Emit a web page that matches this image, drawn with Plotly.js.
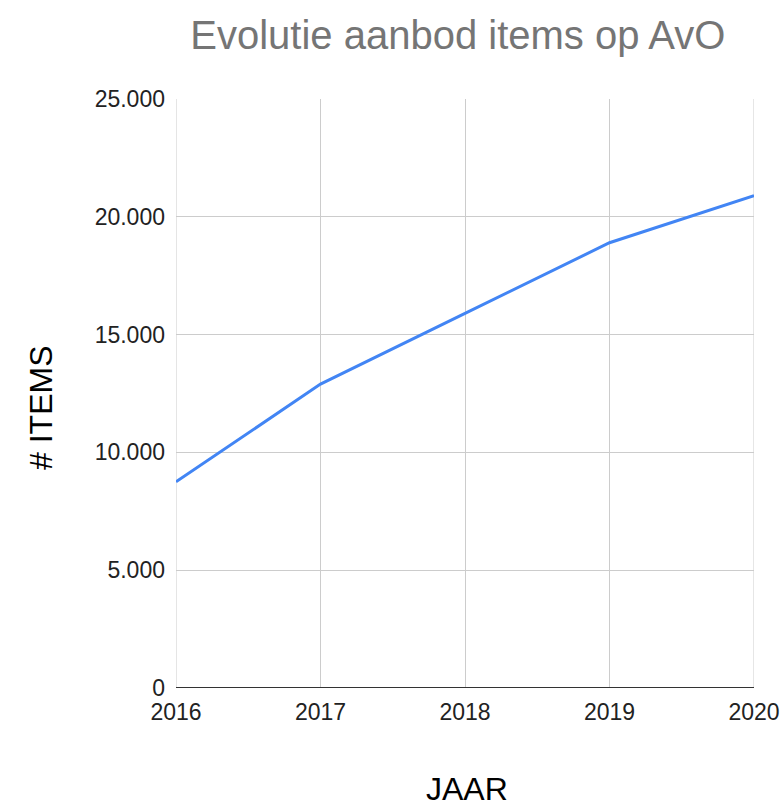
<!DOCTYPE html>
<html>
<head>
<meta charset="utf-8">
<script src="https://cdn.plot.ly/plotly-3.0.1.min.js"></script>
<style>html,body{margin:0;padding:0;background:#fff;}#chart{width:784px;height:808px;}</style>
</head>
<body>
<div id="chart"></div>
<script>
const years = [2016, 2017, 2018, 2019, 2020];
const items = [8750, 12900, 15900, 18900, 20900];
const yTickVals = [0, 5000, 10000, 15000, 20000, 25000];
const yTickText = ["0", "5.000", "10.000", "15.000", "20.000", "25.000"];
const xTickText = ["2016", "2017", "2018", "2019", "2020"];

const trace = {
  x: years, y: items, type: 'scatter', mode: 'lines',
  line: {color: '#4285F4', width: 3},
  hoverinfo: 'none'
};
const layout = {
  width: 784, height: 808,
  margin: {l: 176, r: 30, t: 99, b: 120},
  paper_bgcolor: '#fff', plot_bgcolor: '#fff',
  font: {family: 'Liberation Sans, Arial, sans-serif', color: '#000', size: 23},
  title: {text: 'Evolutie aanbod items op AvO', font: {size: 40, color: '#757575'}, x: 0.584, xanchor: 'center', y: 0.957, yanchor: 'middle'},
  xaxis: {
    range: [2016, 2020], tickvals: years, ticktext: xTickText,
    showgrid: true, gridcolor: '#cccccc', gridwidth: 1,
    zeroline: false, showline: false, ticks: '',
    ticklabelstandoff: 8,
    tickfont: {size: 23, color: '#222'}
  },
  yaxis: {
    range: [0, 25000], tickvals: yTickVals, ticktext: yTickText,
    showgrid: true, gridcolor: '#cccccc', gridwidth: 1,
    zeroline: false, showline: false, ticks: '',
    ticklabelstandoff: 10,
    tickfont: {size: 23, color: '#222'}
  },
  annotations: [
    {text: '# ITEMS', xref: 'paper', yref: 'paper', x: 0, y: 0.4754, xanchor: 'center', yanchor: 'middle',
     xshift: -135, textangle: -90, showarrow: false, font: {size: 32, color: '#000'}},
    {text: 'JAAR', xref: 'paper', yref: 'paper', x: 0.5, y: 0, xanchor: 'center', yanchor: 'middle',
     yshift: -101, xshift: 2, showarrow: false, font: {size: 32, color: '#000'}}
  ],
  shapes: [
    {type: 'line', xref: 'paper', yref: 'y', x0: 0, x1: 1, y0: 0, y1: 0, line: {color: '#333', width: 2}},
    {type: 'line', xref: 'x', yref: 'paper', x0: 2016, x1: 2016, y0: 0, y1: 1, line: {color: '#cccccc', width: 1}, layer: 'below'},
    {type: 'line', xref: 'x', yref: 'paper', x0: 2020, x1: 2020, y0: 0, y1: 1, line: {color: '#cccccc', width: 1}, layer: 'below'}
  ],
  showlegend: false
};
Plotly.newPlot('chart', [trace], layout, {displayModeBar: false, staticPlot: true});
</script>
</body>
</html>
